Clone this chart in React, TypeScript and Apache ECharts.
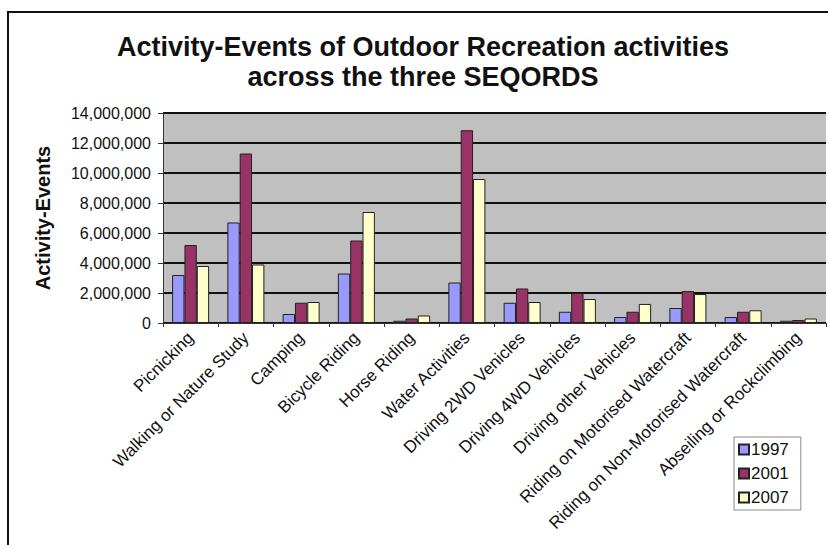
import React, { useEffect, useRef } from "react";
import * as echarts from "echarts";

const categories = [
  "Picnicking",
  "Walking or Nature Study",
  "Camping",
  "Bicycle Riding",
  "Horse Riding",
  "Water Activities",
  "Driving 2WD Venicles",
  "Driving 4WD Vehicles",
  "Driving other Vehicles",
  "Riding on Motorised Watercraft",
  "Riding on Non-Motorised Watercraft",
  "Abseiling or Rockclimbing",
];
const years = ["1997", "2001", "2007"];
const values1997 = [3200000, 6700000, 600000, 3300000, 150000, 2700000, 1350000, 750000, 400000, 1000000, 400000, 150000];
const values2001 = [5200000, 11300000, 1350000, 5500000, 300000, 12850000, 2300000, 2000000, 750000, 2130000, 750000, 200000];
const values2007 = [3800000, 3900000, 1400000, 7400000, 500000, 9600000, 1400000, 1600000, 1270000, 1930000, 850000, 300000];
const yTicks = [0, 14000000, 2000000];
const colors = ["#9999ff", "#993366", "#ffffcc"];

export default function App() {
  const ref = useRef<HTMLDivElement>(null);
  useEffect(() => {
    if (!ref.current) return;
    const chart = echarts.init(ref.current, null, { renderer: "svg" });
    const seriesData = [values1997, values2001, values2007];
    chart.setOption({
      animation: false,
      backgroundColor: "#ffffff",
      textStyle: { fontFamily: "Liberation Sans, Arial, sans-serif" },
      title: {
        text: "Activity-Events of Outdoor Recreation activities\nacross the three SEQORDS",
        left: 418,
        textAlign: "center",
        top: 27,
        textStyle: {
          fontFamily: "Liberation Sans, Arial, sans-serif",
          fontSize: 27,
          fontWeight: "bold",
          color: "#111",
          lineHeight: 30,
        },
      },
      graphic: [
        {
          type: "rect",
          shape: { x: 8, y: 12, width: 900, height: 600 },
          style: { fill: "none", stroke: "#111", lineWidth: 2 },
          silent: true,
        },
      ],
      legend: {
        orient: "vertical",
        left: 734,
        top: 437,
        itemWidth: 10,
        itemHeight: 10,
        itemGap: 7,
        padding: [4, 12, 4, 4],
        borderColor: "#888",
        borderWidth: 1,
        backgroundColor: "#fff",
        textStyle: { fontSize: 17, color: "#111", padding: [0, 0, 0, -3] },
        data: years.map((y) => ({ name: y, icon: "rect" })),
      },
      grid: { left: 163, top: 113, right: 2, bottom: 222 },
      xAxis: {
        type: "category",
        data: categories,
        axisLine: { lineStyle: { color: "#333", width: 1 } },
        axisTick: { show: true, alignWithLabel: false, length: 4, lineStyle: { color: "#333" } },
        axisLabel: {
          rotate: 45,
          interval: 0,
          fontSize: 17,
          color: "#111",
          margin: 12,
        },
      },
      yAxis: {
        type: "value",
        min: yTicks[0],
        max: yTicks[1],
        interval: yTicks[2],
        name: "Activity-Events",
        nameLocation: "middle",
        nameGap: 110,
        nameTextStyle: { fontSize: 20, fontWeight: "bold", color: "#111" },
        axisLine: { show: true, lineStyle: { color: "#333" } },
        axisTick: { show: true, length: 5, lineStyle: { color: "#333" } },
        axisLabel: {
          fontSize: 16,
          color: "#111",
          margin: 12,
          formatter: (v: number) => v.toLocaleString("en-US"),
        },
        splitLine: { lineStyle: { color: "#111", width: 2 } },
        splitArea: { show: true, areaStyle: { color: ["#c0c0c0", "#c0c0c0"] } },
      },
      series: years.map((y, i) => ({
        name: y,
        type: "bar",
        data: seriesData[i],
        barGap: "0%",
        barCategoryGap: "33%",
        itemStyle: { color: colors[i], borderColor: "#222", borderWidth: 1 },
      })),
    });
    return () => chart.dispose();
  }, []);
  return (
    <div
      ref={ref}
      style={{ position: "absolute", left: 0, top: 0, width: 828, height: 545 }}
    />
  );
}
